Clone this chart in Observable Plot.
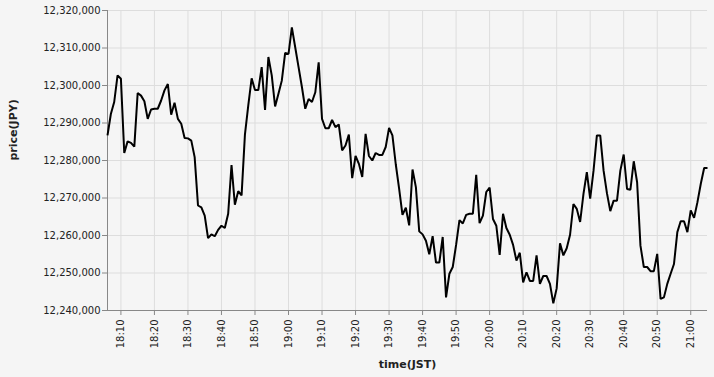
<!DOCTYPE html>
<html>
<head>
<meta charset="utf-8">
<script src="https://cdn.jsdelivr.net/npm/d3@7"></script>
<script src="https://cdn.jsdelivr.net/npm/@observablehq/plot@0.6"></script>
<style>
  html, body { margin: 0; padding: 0; background: #f5f5f5; }
  #chart svg { display: block; }
</style>
</head>
<body>
<div id="chart"></div>
<script>
// Price sampled once per minute (JST), starting at 18:06
const startTime = "18:06";
const prices = [
  12286700, 12292400, 12295600, 12302700, 12301800, 12282000, 12285100, 12284700, 12283700, 12298000,
  12297300, 12295800, 12291100, 12293600, 12293800, 12293800, 12296000, 12298700, 12300400, 12292200,
  12295400, 12291100, 12289800, 12286000, 12285900, 12285300, 12280900, 12268000, 12267500, 12265300,
  12259300, 12260300, 12259800, 12261500, 12262600, 12262000, 12265800, 12278800, 12268200, 12271800,
  12270700, 12286900, 12294700, 12301900, 12298800, 12298800, 12304900, 12293500, 12307600, 12302700,
  12294400, 12297800, 12301300, 12308700, 12308400, 12315500, 12310200, 12304900, 12299600, 12293800,
  12296400, 12295600, 12298200, 12306200, 12291100, 12288600, 12288600, 12290800, 12288900, 12289600,
  12282700, 12284000, 12286900, 12275300, 12281200, 12279100, 12275600, 12287100, 12281200, 12280000,
  12282000, 12281500, 12281500, 12283600, 12288700, 12286700, 12279000, 12272500, 12265500, 12267400,
  12262700, 12277600, 12272900, 12261100, 12260300, 12258600, 12255000, 12259800, 12252800, 12252800,
  12259600, 12243500, 12249800, 12251600, 12257500, 12264100, 12263200, 12265500, 12265800, 12265800,
  12276200, 12263300, 12265300, 12271600, 12272800, 12264400, 12262600, 12254800, 12265800, 12262000,
  12260200, 12257500, 12253300, 12255400, 12247500, 12250200, 12247900, 12247900, 12254700, 12247100,
  12249200, 12249200, 12247100, 12241900, 12245900, 12257900, 12254700, 12256600, 12260200, 12268400,
  12267100, 12263600, 12271100, 12276900, 12269800, 12277300, 12286700, 12286700, 12277300, 12271300,
  12266500, 12269300, 12269300, 12277300, 12281600, 12272400, 12272200, 12279800, 12274200, 12257300,
  12251600, 12251600, 12250500, 12250500, 12255100, 12243100, 12243500, 12247100, 12249800, 12252400,
  12260900, 12263800, 12263800, 12260900, 12266700, 12264700, 12268900, 12273800, 12278000, 12278000
];
const xTickLabels = ["18:10","18:20","18:30","18:40","18:50","19:00","19:10","19:20","19:30","19:40",
  "19:50","20:00","20:10","20:20","20:30","20:40","20:50","21:00"];
const yTicks = [12240000, 12250000, 12260000, 12270000, 12280000, 12290000, 12300000, 12310000, 12320000];
const xTitle = "time(JST)";
const yTitle = "price(JPY)";

const parseHM = s => { const [h, m] = s.split(":").map(Number); return new Date(Date.UTC(2024, 0, 1, h, m)); };
const t0 = parseHM(startTime);
const data = prices.map((p, i) => ({ time: d3.utcMinute.offset(t0, i), price: p }));
const xTicks = xTickLabels.map(parseHM);

const chart = Plot.plot({
  width: 714,
  height: 377,
  marginTop: 10,
  marginBottom: 67,
  marginLeft: 107,
  marginRight: 7,
  style: { background: "#f5f5f5", fontFamily: "DejaVu Sans", fontSize: "10px", color: "#222" },
  x: { type: "utc" },
  y: { domain: [yTicks[0], yTicks[yTicks.length - 1]] },
  marks: [
    Plot.gridX({ ticks: xTicks, stroke: "#dddddd", strokeOpacity: 1 }),
    Plot.gridY({ ticks: yTicks, stroke: "#dddddd", strokeOpacity: 1 }),
    Plot.ruleY([yTicks[0]], { stroke: "#888888" }),
    Plot.ruleX([data[0].time], { stroke: "#888888" }),
    Plot.axisX({ ticks: xTicks, tickFormat: d3.utcFormat("%H:%M"), tickRotate: -90, tickSize: 5,
      tickPadding: 4, label: null, stroke: "#888888", fill: "#222", fontSize: 10 }),
    Plot.axisY({ ticks: yTicks, tickFormat: d3.format(","), tickSize: 5, tickPadding: 2,
      label: null, stroke: "#888888", fill: "#222", fontSize: 10 }),
    Plot.lineY(data, { x: "time", y: "price", stroke: "black", strokeWidth: 2,
      strokeLinejoin: "miter", strokeLinecap: "butt" }),
    Plot.text([yTitle], { frameAnchor: "left", dx: -94, rotate: -90, fontWeight: "bold", fontSize: 11, fill: "#222" }),
    Plot.text([xTitle], { frameAnchor: "bottom", dy: 57, fontWeight: "bold", fontSize: 11, fill: "#222" })
  ]
});
document.getElementById("chart").appendChild(chart);
</script>
</body>
</html>
